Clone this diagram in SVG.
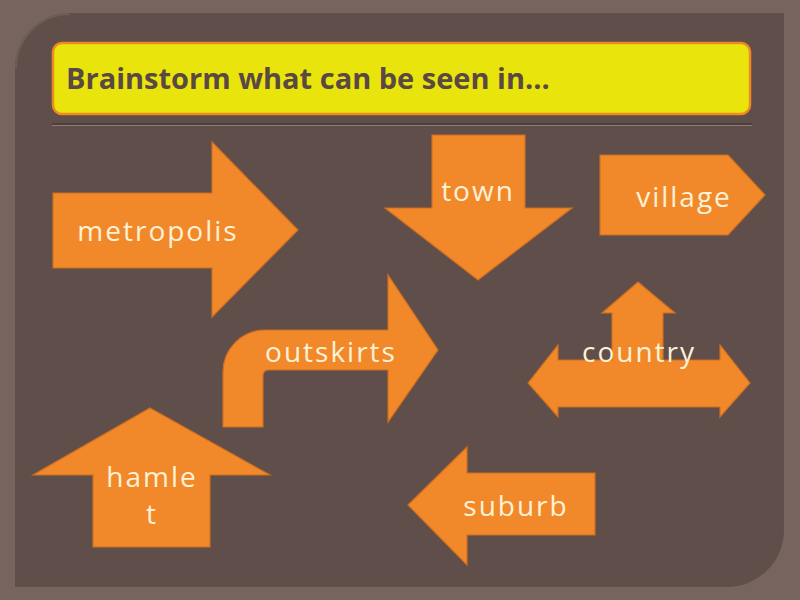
<svg xmlns="http://www.w3.org/2000/svg" width="800" height="600" viewBox="0 0 800 600">
<style>
.arrow{fill:#f1892b;stroke:#d06f1f;stroke-width:1.2;stroke-linejoin:miter}
.lbl{font-family:"Open Sans","Noto Sans","DejaVu Sans",sans-serif;font-size:28px;fill:#fdf1d6;letter-spacing:2px;text-anchor:middle}
.title{font-family:"Open Sans","Noto Sans","DejaVu Sans",sans-serif;font-size:29px;font-weight:bold;fill:#5a4843}
</style>
<rect x="0" y="0" width="800" height="600" fill="#78645f"/>
<path d="M70,13 L784,13 L784,530 A57,57 0 0 1 727,587 L15,587 L15,68 A55,55 0 0 1 70,13 Z" fill="#5f4e4a"/>
<path d="M16,68 A54,54 0 0 1 70,14" fill="none" stroke="#6e5c57" stroke-width="2"/>
<g id="title">
<rect x="53" y="43" width="697" height="71" rx="9" fill="#e9e50c" stroke="#ef8a22" stroke-width="2.5"/>
<text class="title" x="66" y="89">Brainstorm what can be seen in...</text>
</g>
<line x1="52" y1="124" x2="752" y2="124" stroke="#3f302d" stroke-width="1.2"/>
<line x1="52" y1="125.5" x2="752" y2="125.5" stroke="#8d7b75" stroke-width="1"/>
<g id="metropolis">
<path class="arrow" d="M53,193 L212,193 L212,142 L298,230 L212,317 L212,268 L53,268 Z"/>
<text class="lbl" x="158" y="241">metropolis</text>
</g>
<g id="town">
<path class="arrow" d="M432,135 L525,135 L525,208 L572,208 L478,280 L385,208 L432,208 Z"/>
<text class="lbl" x="478" y="201">town</text>
</g>
<g id="village">
<path class="arrow" d="M600,155 L728,155 L765,195 L728,235 L600,235 Z"/>
<text class="lbl" x="684" y="207">village</text>
</g>
<g id="outskirts">
<path class="arrow" d="M223,427 L223,372 A42,42 0 0 1 265,330 L388,330 L388,275 L438,350 L388,422 L388,370 L268,370 A5,5 0 0 0 263,375 L263,427 Z"/>
<text class="lbl" x="331" y="362">outskirts</text>
</g>
<g id="country">
<path class="arrow" d="M528,383 L558,345 L558,360 L612,360 L612,313 L602,313 L638,282 L675,313 L663,313 L663,360 L720,360 L720,345 L750,383 L720,417 L720,407 L558,407 L558,417 Z"/>
<text class="lbl" x="639" y="362">country</text>
</g>
<g id="hamlet">
<path class="arrow" d="M150,408 L270,475 L210,475 L210,547 L93,547 L93,475 L33,475 Z"/>
<text class="lbl" x="152" y="487">hamle</text>
<text class="lbl" x="152" y="524">t</text>
</g>
<g id="suburb">
<path class="arrow" d="M408,505 L467,447 L467,473 L595,473 L595,535 L467,535 L467,565 Z"/>
<text class="lbl" x="516" y="516">suburb</text>
</g>
</svg>
